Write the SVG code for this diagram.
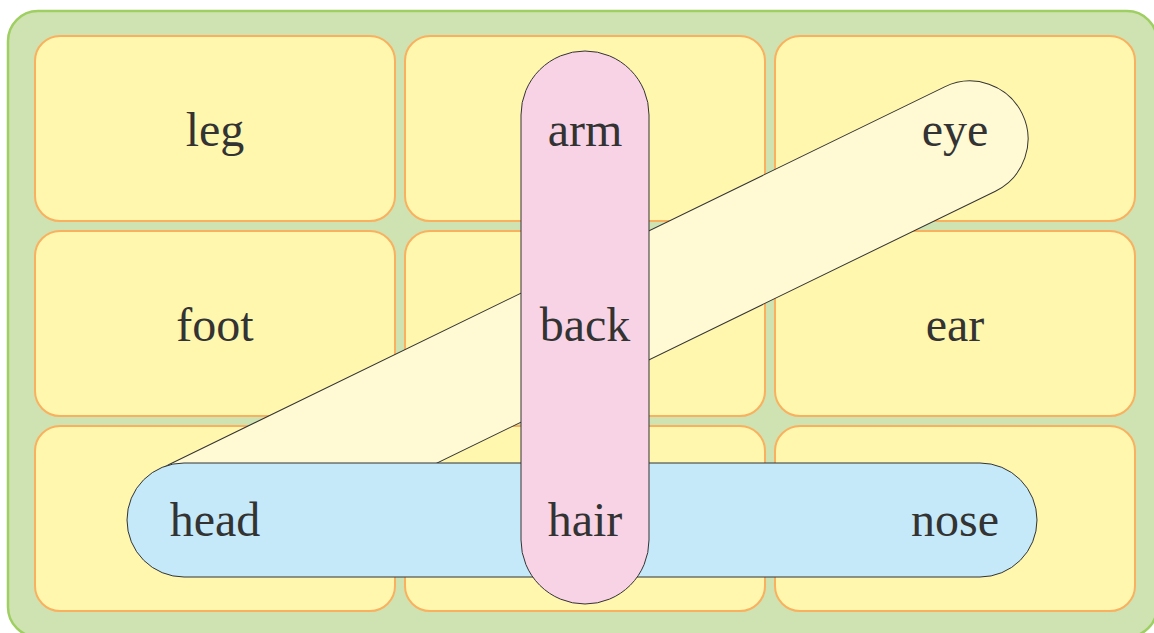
<svg xmlns="http://www.w3.org/2000/svg" width="1154" height="633" viewBox="0 0 1154 633">
  <style>
    .bg { fill: #cfe3b2; stroke: #9fcf62; stroke-width: 2.5; }
    .cell { fill: #fff7ae; stroke: #f9b05f; stroke-width: 2; }
    .pill { stroke: #333333; stroke-width: 1; }
    .yellow { fill: #fffad4; }
    .blue { fill: #c5e9f9; }
    .pink { fill: #f8d3e5; }
    .label { font-size: 48px; fill: #333333; text-anchor: middle; }
  </style>
  <rect class="bg" x="8" y="11" width="1149" height="626" rx="30" ry="30"/>
  <g id="cells">
    <rect class="cell" x="35" y="36" width="360" height="185" rx="25"/>
    <rect class="cell" x="405" y="36" width="360" height="185" rx="25"/>
    <rect class="cell" x="775" y="36" width="360" height="185" rx="25"/>
    <rect class="cell" x="35" y="231" width="360" height="185" rx="25"/>
    <rect class="cell" x="405" y="231" width="360" height="185" rx="25"/>
    <rect class="cell" x="775" y="231" width="360" height="185" rx="25"/>
    <rect class="cell" x="35" y="426" width="360" height="185" rx="25"/>
    <rect class="cell" x="405" y="426" width="360" height="185" rx="25"/>
    <rect class="cell" x="775" y="426" width="360" height="185" rx="25"/>
  </g>
  <g id="connectors">
    <rect id="head-eye" class="pill yellow" x="-489" y="-58" width="978" height="116" rx="58" transform="translate(582.5 327.7) rotate(-25.96)"/>
    <rect id="head-nose" class="pill blue" x="127" y="463" width="910" height="114" rx="57"/>
    <rect id="arm-hair" class="pill pink" x="521" y="51" width="128" height="553" rx="64"/>
  </g>
  <g font-family="Liberation Serif, Times New Roman, Times, serif">
    <g id="leg"><text class="label" x="215" y="146">leg</text></g>
    <g id="arm"><text class="label" x="585" y="146">arm</text></g>
    <g id="eye"><text class="label" x="955" y="146">eye</text></g>
    <g id="foot"><text class="label" x="215" y="341">foot</text></g>
    <g id="back"><text class="label" x="585" y="341">back</text></g>
    <g id="ear"><text class="label" x="955" y="341">ear</text></g>
    <g id="head"><text class="label" x="215" y="536">head</text></g>
    <g id="hair"><text class="label" x="585" y="536">hair</text></g>
    <g id="nose"><text class="label" x="955" y="536">nose</text></g>
  </g>
</svg>
